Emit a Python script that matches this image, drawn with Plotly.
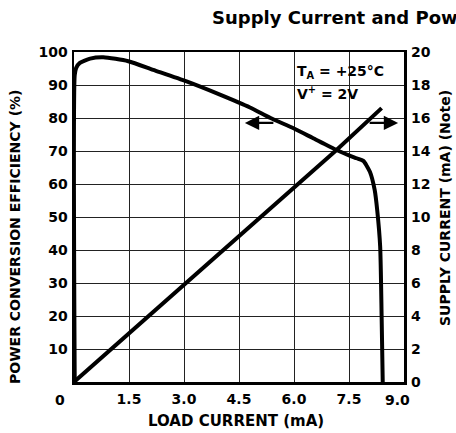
import plotly.graph_objects as go

# ---- data ----
load_eff = [0.02, 0.02, 0.06, 0.16, 0.44, 0.8, 1.48, 2.16, 3.07, 3.98, 4.8, 5.36, 6.0, 6.5,
            7.16, 7.5, 7.71, 7.89, 8.07, 8.2, 8.27, 8.35, 8.39, 8.42]
efficiency = [0, 93.0, 95.2, 96.7, 98.0, 98.4, 97.2, 94.6, 91.1, 87.1, 83.2, 80.0, 76.8, 74.0,
              70.3, 68.7, 67.8, 67.0, 63.7, 58.2, 52.0, 41.0, 19.8, 0.0]

load_sup = [0, 3.06, 7.16, 8.39]
supply_ma = [0, 6.0, 14.06, 16.6]

x_ticks = [1.5, 3.0, 4.5, 6.0, 7.5]
x_ticktext = ["1.5", "3.0", "4.5", "6.0", "7.5"]
y_ticks = [10, 20, 30, 40, 50, 60, 70, 80, 90, 100]
y2_ticks = [0, 2, 4, 6, 8, 10, 12, 14, 16, 18, 20]

FONT = "DejaVu Sans"
W, H = 456, 433
PL, PR, PT, PB = 74, 404, 52, 382   # plot box in pixels
L, R, T, B = PL, W - PR, PT, H - PB

fig = go.Figure()
fig.add_trace(go.Scatter(x=load_eff, y=efficiency, mode="lines",
                         line=dict(color="black", width=4, shape="spline", smoothing=0.6),
                         yaxis="y", showlegend=False, hoverinfo="skip"))
fig.add_trace(go.Scatter(x=load_sup, y=supply_ma, mode="lines",
                         line=dict(color="black", width=4), yaxis="y2", showlegend=False,
                         hoverinfo="skip"))

tickfont = dict(family=FONT, size=14, color="black", weight="bold")

fig.update_layout(
    width=W, height=H,
    margin=dict(l=L, r=R, t=T, b=B, autoexpand=False),
    paper_bgcolor="white", plot_bgcolor="white",
    xaxis=dict(range=[0, 9], tickvals=x_ticks, ticktext=x_ticktext, showgrid=True,
               gridcolor="#222", gridwidth=1, showline=True, linecolor="black",
               linewidth=2.5, mirror=True, ticks="", tickfont=tickfont,
               ticklabelstandoff=3, zeroline=False, automargin=False),
    yaxis=dict(range=[0, 100], tickvals=y_ticks, showgrid=True, gridcolor="#222",
               gridwidth=1, showline=True, linecolor="black", linewidth=2.5, mirror=True,
               ticks="", tickfont=tickfont, ticklabelstandoff=1, zeroline=False,
               automargin=False),
    yaxis2=dict(range=[0, 20], tickvals=y2_ticks, overlaying="y", side="right",
                showgrid=False, ticks="", tickfont=tickfont, ticklabelstandoff=6,
                zeroline=False, showline=False, automargin=False),
)

def px_to_paper(px, py):
    return (px - PL) / (PR - PL), (PB - py) / (PB - PT)

ann = []
def text_ann(text, px, py, size=14, xanchor="center", angle=0):
    x, y = px_to_paper(px, py)
    ann.append(dict(text=text, x=x, y=y, xref="paper", yref="paper", showarrow=False,
                    xanchor=xanchor, yanchor="middle", textangle=angle,
                    font=dict(family=FONT, size=size, color="black", weight="bold")))

text_ann("Supply Current and Power Conversion Efficiency", 210, 17, size=18, xanchor="left")
text_ann("POWER CONVERSION EFFICIENCY (%)", 15, 237, angle=-90)
text_ann("SUPPLY CURRENT (mA) (Note)", 445, 208, angle=-90)
text_ann("LOAD CURRENT (mA)", 236, 421, size=15)
text_ann("0", 60, 400)
text_ann("9.0", 397, 400)
text_ann("T<sub>A</sub> = +25°C", 295, 72, xanchor="left")
text_ann("V<sup>+</sup> = 2V", 295, 93, xanchor="left")

for hx, tail in [(4.66, 30), (8.84, -30)]:
    ann.append(dict(x=hx, y=78.5, xref="x", yref="y", ax=tail, ay=0, text="",
                    showarrow=True, arrowhead=2, arrowsize=1.3, arrowwidth=2.2,
                    arrowcolor="black"))

fig.update_layout(annotations=ann)
fig.write_html("out.html",
               config={"displayModeBar": False, "staticPlot": True},
               post_script="document.body.style.margin='0';"
                           "document.body.style.overflow='hidden';")
